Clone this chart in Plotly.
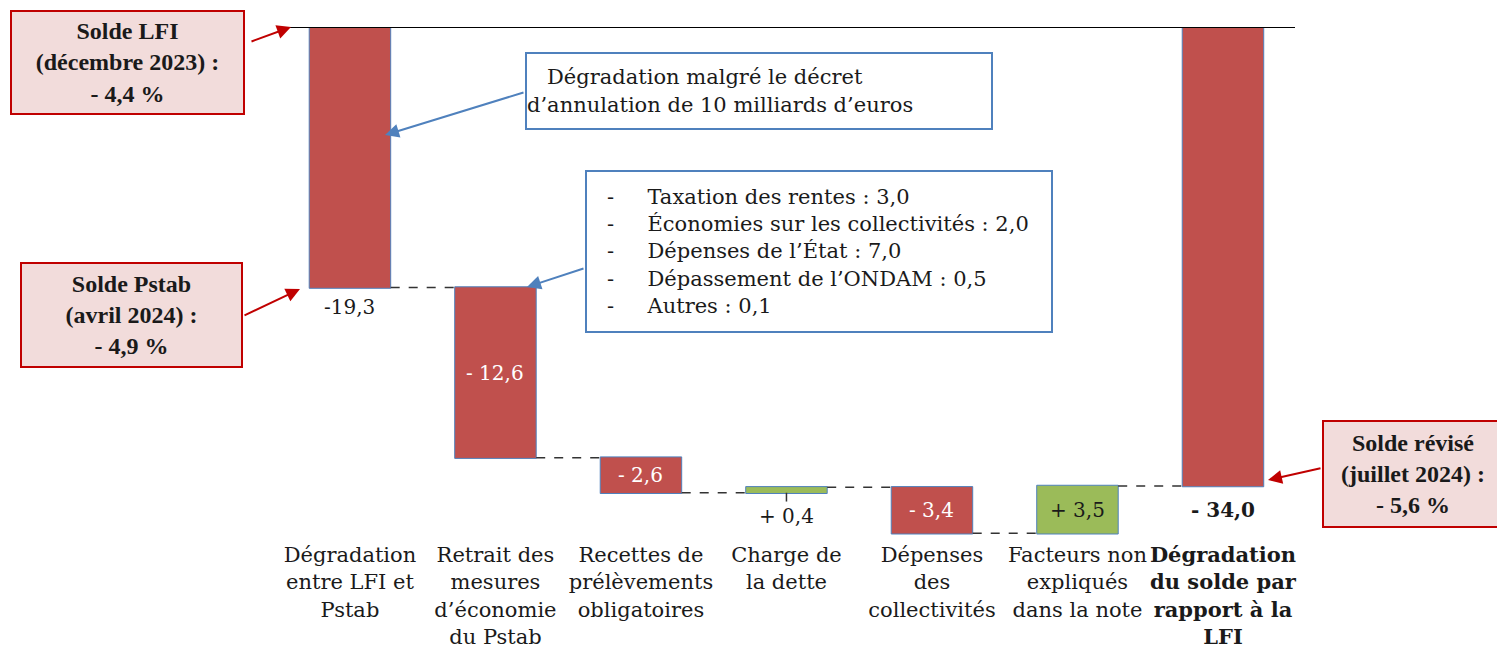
import plotly.graph_objects as go

# ---- data ----
categories = [
    "Dégradation<br>entre LFI et<br>Pstab",
    "Retrait des<br>mesures<br>d’économie<br>du Pstab",
    "Recettes de<br>prélèvements<br>obligatoires",
    "Charge de<br>la dette",
    "Dépenses<br>des<br>collectivités",
    "Facteurs non<br>expliqués<br>dans la note",
    "<b>Dégradation<br>du solde par<br>rapport à la<br>LFI</b>",
]
values = [-19.3, -12.6, -2.6, 0.4, -3.4, 3.5, -34.0]
measures = ["relative", "relative", "relative", "relative", "relative", "relative", "total"]
value_labels = ["-19,3", "- 12,6", "- 2,6", "+ 0,4", "- 3,4", "+ 3,5", "<b>- 34,0</b>"]
label_pos = ["below", "inside", "inside", "below", "inside", "inside", "below"]
label_color = ["#1a1a1a", "white", "white", "#1a1a1a", "white", "#1a1a1a", "#1a1a1a"]

solde_lfi = "<b>Solde LFI<br>(décembre 2023) :<br>- 4,4 %</b>"
solde_pstab = "<b>Solde Pstab<br>(avril 2024) :<br>- 4,9 %</b>"
solde_revise = "<b>Solde révisé<br>(juillet 2024) :<br>- 5,6 %</b>"
note_decret = "Dégradation malgré le décret<br>d’annulation de 10 milliards d’euros"
note_items = [
    "Taxation des rentes : 3,0",
    "Économies sur les collectivités : 2,0",
    "Dépenses de l’État : 7,0",
    "Dépassement de l’ONDAM : 0,5",
    "Autres : 0,1",
]

FONT = "'DejaVu Serif', serif"
FONT_BOX = "'Liberation Serif', serif"
RED = "#C0504D"
GREEN = "#9BBB59"
EDGE = "#4F81BD"
PINK = "#F2DCDB"
DARKRED = "#C00000"
TXT = "#1a1a1a"

OFF = 8  # page body margin
W, H = 1505 - OFF, 656 - OFF
L, R, T, B = 282 - OFF, 1295 - OFF, 27 - OFF, 540 - OFF

def px(x):
    return (x - OFF - L) / (R - L)

def py(y):
    return (B - (y - OFF)) / (B - T)

x = list(range(len(categories)))

fig = go.Figure(go.Waterfall(
    x=x, y=values, measure=measures,
    base=0,
    width=0.56,
    decreasing=dict(marker=dict(color=RED, line=dict(color=EDGE, width=1))),
    increasing=dict(marker=dict(color=GREEN, line=dict(color=EDGE, width=1))),
    totals=dict(marker=dict(color=RED, line=dict(color=EDGE, width=1))),
    connector=dict(mode="between", line=dict(color="#333333", width=1.5, dash="dash")),
    hoverinfo="skip",
))

annotations = []
shapes = [dict(type="line", xref="paper", yref="y", x0=0, x1=1, y0=0, y1=0,
               line=dict(color="black", width=2))]
cum = 0.0
for i, (v, m) in enumerate(zip(values, measures)):
    if m == "total":
        start, end = 0.0, v
    else:
        start, end = cum, cum + v
        cum = end
    lo, hi = min(start, end), max(start, end)
    if label_pos[i] == "inside":
        annotations.append(dict(x=i, y=(lo + hi) / 2, xref="x", yref="y", text=value_labels[i],
                                showarrow=False, font=dict(family=FONT, size=20, color=label_color[i])))
    else:
        shift = {0: -5, 3: -9, 6: -10}[i]
        annotations.append(dict(x=i, y=lo, xref="x", yref="y", text=value_labels[i], yanchor="top",
                                yshift=shift,
                                showarrow=False, font=dict(family=FONT, size=20, color=label_color[i])))
        if i == 3:
            # small leader line under the thin bar
            shapes.append(dict(type="line", xref="x", yref="y", x0=i, x1=i, y0=lo, y1=lo - 0.65,
                               line=dict(color="#333333", width=1.5)))

def box(text, x0, y0, x1, y1, fill, border, align="center", size=21, family=FONT, color=TXT):
    annotations.append(dict(
        x=px((x0 + x1) / 2), y=py((y0 + y1) / 2), xref="paper", yref="paper",
        text=text, showarrow=False, align=align, valign="middle",
        width=x1 - x0 - 4, height=y1 - y0 - 4,
        bgcolor=fill, bordercolor=border, borderwidth=2, borderpad=0,
        font=dict(family=family, size=size, color=color),
        xanchor="center", yanchor="middle",
    ))

def arrow(x0, y0, x1, y1, color):
    annotations.append(dict(
        x=px(x1), y=py(y1), xref="paper", yref="paper",
        ax=x0 - x1, ay=y0 - y1, axref="pixel", ayref="pixel",
        text="", showarrow=True, arrowhead=2, arrowsize=1.4, arrowwidth=2,
        arrowcolor=color, standoff=0, startstandoff=0,
    ))

box(solde_lfi, 10, 10, 245, 115, PINK, DARKRED, size=24, family=FONT_BOX)
box(solde_pstab, 20, 262, 243, 368, PINK, DARKRED, size=24, family=FONT_BOX)
box(solde_revise, 1322, 420, 1504, 528, PINK, DARKRED, size=24, family=FONT_BOX)

box("&nbsp;&nbsp;&nbsp;" + note_decret + "&nbsp;" * 4, 525, 52, 993, 130, "white", EDGE, align="left", size=21)
items_text = "<br>".join("&nbsp;&nbsp;&nbsp;-&nbsp;&nbsp;&nbsp;&nbsp;&nbsp;" + it for it in note_items)
box(items_text + "&nbsp;" * 2, 585, 170, 1053, 333, "white", EDGE, align="left", size=21)

arrow(250, 42, 291, 27, DARKRED)
arrow(243, 316, 300, 289, DARKRED)
arrow(1322, 468, 1268, 480, DARKRED)
arrow(525, 92, 385, 135, EDGE)
arrow(585, 268, 527, 287, EDGE)

fig.update_layout(
    width=W, height=H,
    margin=dict(l=L, r=W - R, t=T, b=H - B, pad=0, autoexpand=False),
    paper_bgcolor="white", plot_bgcolor="white",
    showlegend=False,
    font=dict(family=FONT, size=21, color=TXT),
    xaxis=dict(range=[-0.467, 6.495], tickvals=x, ticktext=categories, showgrid=False,
               zeroline=False, showline=False, ticks="", ticklabelstandoff=0, automargin=False,
               tickfont=dict(family=FONT, size=21, color=TXT), fixedrange=True),
    yaxis=dict(range=[-38, 0], visible=False, showgrid=False, zeroline=False, fixedrange=True,
               automargin=False),
    annotations=annotations,
    shapes=shapes,
)

fig.write_html("out.html")
